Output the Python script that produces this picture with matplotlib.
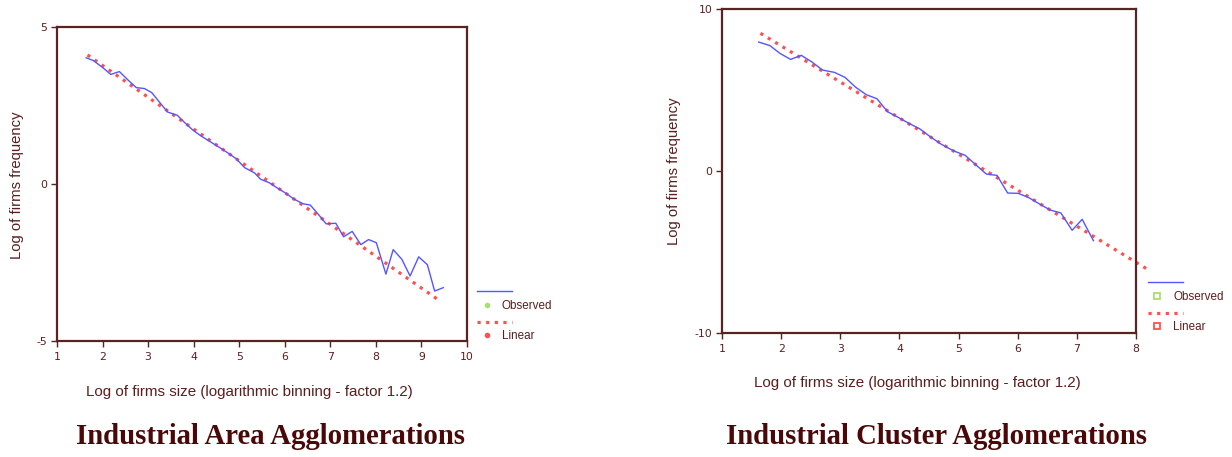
import matplotlib
matplotlib.use("Agg")
import matplotlib.pyplot as plt
from matplotlib.lines import Line2D

plt.rcParams["axes.unicode_minus"] = False

# ---- data: Industrial Area Agglomerations ----
area_x = [1.64, 1.80, 2.01, 2.18, 2.37, 2.56, 2.74, 2.92, 3.08, 3.27, 3.43, 3.64, 3.80, 3.98,
          4.15, 4.36, 4.56, 4.74, 4.93, 5.12, 5.34, 5.47, 5.66, 5.85, 6.03, 6.20, 6.40, 6.56,
          6.75, 6.91, 7.12, 7.29, 7.48, 7.67, 7.84, 8.01, 8.22, 8.38, 8.57, 8.75, 8.94, 9.13,
          9.29, 9.48]
area_y = [4.02, 3.93, 3.70, 3.49, 3.58, 3.31, 3.07, 3.04, 2.91, 2.57, 2.29, 2.19, 1.96, 1.72,
          1.54, 1.35, 1.17, 1.00, 0.81, 0.52, 0.35, 0.15, 0.04, -0.14, -0.30, -0.48, -0.63, -0.67,
          -0.99, -1.27, -1.25, -1.68, -1.51, -1.93, -1.77, -1.87, -2.87, -2.09, -2.40, -2.93, -2.32, -2.57,
          -3.41, -3.30]
area_lin_x = [1.67, 9.41]
area_lin_y = [4.11, -3.73]

# ---- data: Industrial Cluster Agglomerations ----
cl_x = [1.62, 1.81, 1.98, 2.16, 2.34, 2.52, 2.70, 2.90, 3.08, 3.26, 3.44, 3.62, 3.80, 3.98,
        4.16, 4.34, 4.52, 4.70, 4.91, 5.11, 5.29, 5.47, 5.65, 5.83, 6.01, 6.19, 6.37, 6.55,
        6.73, 6.92, 7.09, 7.28]
cl_y = [7.96, 7.74, 7.26, 6.89, 7.14, 6.73, 6.23, 6.09, 5.78, 5.17, 4.71, 4.46, 3.66, 3.31,
        2.94, 2.61, 2.12, 1.67, 1.25, 0.97, 0.39, -0.19, -0.27, -1.36, -1.38, -1.65, -2.04, -2.41,
        -2.59, -3.66, -2.98, -4.30]
cl_lin_x = [1.65, 8.24]
cl_lin_y = [8.50, -6.17]

titles = ["Industrial Area Agglomerations", "Industrial Cluster Agglomerations"]
xlabel = "Log of firms size (logarithmic binning - factor 1.2)"
ylabel = "Log of firms frequency"

SPINE = "#5a2323"
TXT = "#5a1e1e"
TITLE_C = "#4a0808"
BLUE = "#5555ff"
RED = "#ff5050"
GREEN = "#a8e070"
DOT = (0, (1, 1.7))

W, H = 1232, 457
fig = plt.figure(figsize=(W / 100, H / 100), dpi=100)
fig.patch.set_facecolor("white")

def fx(px):
    return px / W

def fy(py):
    return 1 - py / H

panels = [
    dict(rect=(57, 27, 467, 341), xlim=(1, 10), ylim=(-5, 5), yt=[-5, 0, 5],
         x=area_x, y=area_y, lx=area_lin_x, ly=area_lin_y,
         ylab=(17, 185), xlab=(249, 392), title=(270, 437),
         leg=(477, 291), hollow=False),
    dict(rect=(722, 9, 1136, 333), xlim=(1, 8), ylim=(-10, 10), yt=[-10, 0, 10],
         x=cl_x, y=cl_y, lx=cl_lin_x, ly=cl_lin_y,
         ylab=(674, 171), xlab=(917, 383), title=(936, 437),
         leg=(1148, 282), hollow=True),
]

for i, p in enumerate(panels):
    x0, y0, x1, y1 = p["rect"]
    ax = fig.add_axes([fx(x0), fy(y1), fx(x1 - x0), (y1 - y0) / H])
    ax.plot(p["x"], p["y"], color=BLUE, lw=1.0, zorder=3)
    ax.plot(p["lx"], p["ly"], color=RED, lw=2.3, linestyle=DOT, zorder=2, clip_on=False)
    ax.set_xlim(*p["xlim"])
    ax.set_ylim(*p["ylim"])
    ax.set_xticks(range(p["xlim"][0], p["xlim"][1] + 1))
    ax.set_yticks(p["yt"])
    for s in ax.spines.values():
        s.set_color(SPINE)
        s.set_linewidth(1.6)
    ax.tick_params(axis="both", direction="out", length=4, width=1, color=SPINE,
                   labelcolor=TXT, labelsize=7.8, pad=3)
    ax.tick_params(axis="x", pad=4)
    # labels
    fig.text(fx(p["ylab"][0]), fy(p["ylab"][1]), ylabel, rotation=90, ha="center",
             va="center", color=TXT, fontsize=10.7, family="Liberation Sans")
    fig.text(fx(p["xlab"][0]), fy(p["xlab"][1]), xlabel, ha="center", va="center",
             color=TXT, fontsize=10.9, family="Liberation Sans")
    fig.text(fx(p["title"][0]), fy(p["title"][1]), titles[i], ha="center", va="center",
             color=TITLE_C, fontsize=20.7, fontweight="bold", family="Liberation Serif")
    # legend (SPSS style)
    lx, ly = p["leg"]
    fig.add_artist(Line2D([fx(lx), fx(lx + 35)], [fy(ly), fy(ly)], color=BLUE, lw=1.0))
    fig.add_artist(Line2D([fx(lx), fx(lx + 35)], [fy(ly + 31), fy(ly + 31)], color=RED,
                          lw=2.3, linestyle=DOT))
    if p["hollow"]:
        fig.add_artist(Line2D([fx(lx + 9)], [fy(ly + 14)], marker="s", ms=5, mfc="white",
                              mec=GREEN, mew=1.3, ls="none"))
        fig.add_artist(Line2D([fx(lx + 9)], [fy(ly + 44)], marker="s", ms=5, mfc="white",
                              mec=RED, mew=1.3, ls="none"))
    else:
        fig.add_artist(Line2D([fx(lx + 10)], [fy(ly + 14)], marker="o", ms=3, mfc=GREEN,
                              mec=GREEN, ls="none"))
        fig.add_artist(Line2D([fx(lx + 10)], [fy(ly + 44)], marker="o", ms=3, mfc=RED,
                              mec=RED, ls="none"))
    fig.text(fx(lx + 25), fy(ly + 15), "Observed", ha="left", va="center", color=TXT,
             fontsize=8.4, family="Liberation Sans")
    fig.text(fx(lx + 25), fy(ly + 45), "Linear", ha="left", va="center", color=TXT,
             fontsize=8.4, family="Liberation Sans")

fig.savefig("out.png", dpi=100, facecolor="white")
